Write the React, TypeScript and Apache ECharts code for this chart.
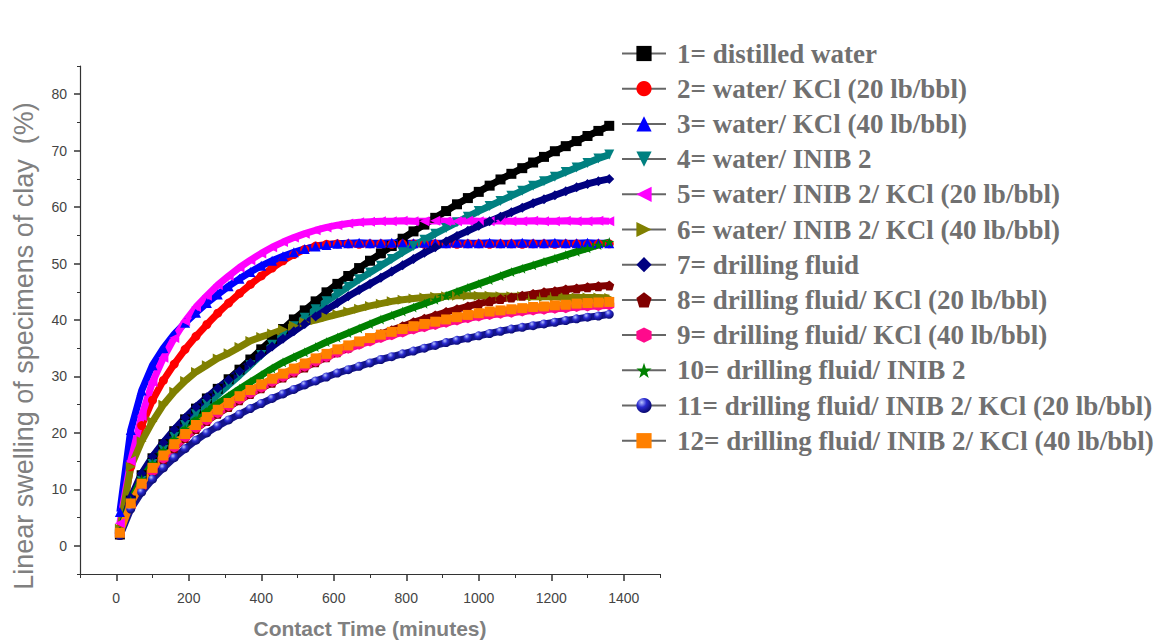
import React, { useEffect, useRef } from "react";
import * as echarts from "echarts";

// Contact time (minutes) at which swelling was recorded
const times = [
  10, 40, 70, 100, 130, 160, 190, 220, 250, 280, 310, 340, 370, 400, 430, 460,
  490, 520, 550, 580, 610, 640, 670, 700, 730, 760, 790, 820, 850, 880, 910,
  940, 970, 1000, 1030, 1060, 1090, 1120, 1150, 1180, 1210, 1240, 1270, 1300,
  1330, 1360,
];

// Linear swelling (%) for each fluid
const distilledWater = [
  2, 8, 12.5, 15.5, 18, 20.3, 22.4, 24.3, 26.1, 27.8, 29.5, 31.2, 33, 34.8, 36.6,
  38.4, 40.1, 41.7, 43.3, 44.9, 46.4, 47.8, 49.2, 50.5, 51.8, 53.1, 54.4, 55.7,
  56.9, 58.1, 59.3, 60.5, 61.6, 62.7, 63.8, 64.9, 65.9, 66.9, 67.9, 68.9, 69.9,
  70.8, 71.7, 72.6, 73.5, 74.4,
];
const waterKcl20 = [
  3, 14, 21.3, 25.8, 29.3, 32.2, 34.8, 37.1, 39.2, 41.2, 43, 44.7, 46.3, 47.8,
  49.2, 50.5, 51.6, 52.5, 53.1, 53.4, 53.5, 53.5, 53.4, 53.5, 53.5, 53.4, 53.5,
  53.5, 53.4, 53.5, 53.5, 53.4, 53.5, 53.5, 53.4, 53.5, 53.5, 53.4, 53.5, 53.5,
  53.4, 53.5, 53.5, 53.4, 53.5, 53.5,
];
const waterKcl40 = [
  6, 20.5, 27.5, 32, 35, 37.5, 39.5, 41.3, 43, 44.5, 46, 47.3, 48.5, 49.6, 50.5,
  51.3, 52, 52.6, 53, 53.3, 53.5, 53.6, 53.7, 53.6, 53.6, 53.7, 53.6, 53.6, 53.7,
  53.6, 53.6, 53.7, 53.6, 53.6, 53.7, 53.6, 53.6, 53.7, 53.6, 53.6, 53.7, 53.6,
  53.6, 53.7, 53.6, 53.6,
];
const waterInib2 = [
  2.3, 7.5, 11.5, 14.5, 17, 19.3, 21.4, 23.3, 25.1, 26.8, 28.5, 30.2, 32, 33.8,
  35.6, 37.3, 38.9, 40.4, 41.9, 43.3, 44.6, 45.9, 47.2, 48.4, 49.6, 50.8, 52,
  53.1, 54.2, 55.3, 56.3, 57.3, 58.3, 59.3, 60.2, 61.1, 62, 62.9, 63.8, 64.6,
  65.4, 66.2, 67, 67.8, 68.6, 69.3,
];
const waterInib2Kcl20 = [
  4, 15, 23, 29, 33.3, 36.8, 39.8, 42.3, 44.3, 46.2, 47.8, 49.3, 50.6, 51.8, 52.9,
  53.8, 54.6, 55.3, 55.9, 56.4, 56.8, 57.1, 57.3, 57.4, 57.5, 57.5, 57.6, 57.5,
  57.5, 57.6, 57.5, 57.5, 57.6, 57.5, 57.5, 57.6, 57.5, 57.5, 57.6, 57.5, 57.5,
  57.6, 57.5, 57.5, 57.6, 57.5,
];
const waterInib2Kcl40 = [
  3, 14, 18.5, 22, 25, 27.3, 29.2, 30.8, 32, 33.2, 34.1, 35.2, 36.3, 37, 37.6,
  38.3, 39, 39.6, 40, 40.5, 41, 41.5, 42, 42.5, 42.9, 43.3, 43.6, 43.8, 44, 44.1,
  44.2, 44.3, 44.3, 44.3, 44.3, 44.2, 44.2, 44.2, 44.1, 44.1, 44.1, 44, 44, 44,
  44, 43.9,
];
const drillingFluid = [
  2.5, 8.5, 12.8, 15.8, 18.3, 20.6, 22.7, 24.6, 26.3, 27.9, 29.4, 30.9, 32.4,
  33.9, 35.3, 36.7, 38, 39.3, 40.6, 41.8, 43, 44.2, 45.3, 46.4, 47.5, 48.6, 49.7,
  50.8, 51.9, 52.9, 53.9, 54.9, 55.8, 56.7, 57.5, 58.3, 59.1, 59.9, 60.7, 61.4,
  62.1, 62.8, 63.5, 64.1, 64.6, 65,
];
const fluidKcl20 = [
  2, 7, 10.3, 13.1, 15.3, 17.3, 19.1, 20.7, 22.1, 23.4, 24.6, 25.8, 26.9, 27.9,
  28.9, 29.8, 30.7, 31.6, 32.5, 33.4, 34.3, 35.1, 35.9, 36.7, 37.5, 38.2, 38.9,
  39.6, 40.2, 40.8, 41.4, 41.9, 42.4, 42.9, 43.3, 43.7, 44, 44.3, 44.6, 44.9,
  45.1, 45.4, 45.6, 45.8, 46, 46.1,
];
const fluidKcl40 = [
  2, 7, 10.5, 13.2, 15.4, 17.4, 19.2, 20.8, 22.2, 23.5, 24.7, 25.9, 27, 28, 29,
  29.9, 30.8, 31.7, 32.6, 33.4, 34.2, 34.9, 35.6, 36.2, 36.8, 37.3, 37.8, 38.3,
  38.7, 39.1, 39.5, 39.9, 40.3, 40.6, 40.9, 41.1, 41.3, 41.5, 41.7, 41.8, 42,
  42.1, 42.3, 42.4, 42.5, 42.6,
];
const fluidInib2 = [
  2.5, 8, 11.8, 14.6, 16.9, 18.9, 20.7, 22.3, 23.8, 25.2, 26.5, 27.8, 29, 30.2,
  31.4, 32.5, 33.4, 34.3, 35.2, 36.1, 36.9, 37.7, 38.5, 39.3, 40.1, 40.8, 41.5,
  42.2, 42.9, 43.6, 44.3, 45, 45.7, 46.4, 47.1, 47.8, 48.5, 49.1, 49.7, 50.3,
  50.9, 51.5, 52.1, 52.7, 53.3, 53.8,
];
const fluidInib2Kcl20 = [
  1.8, 6.5, 9.5, 11.8, 13.8, 15.6, 17.2, 18.7, 20, 21.2, 22.3, 23.3, 24.3, 25.2,
  26.1, 26.9, 27.7, 28.5, 29.2, 29.9, 30.6, 31.2, 31.8, 32.4, 33, 33.5, 34, 34.5,
  35, 35.5, 36, 36.4, 36.8, 37.2, 37.6, 38, 38.4, 38.7, 39, 39.3, 39.6, 39.9,
  40.2, 40.5, 40.7, 41,
];
const fluidInib2Kcl40 = [
  2.3, 7.5, 11, 13.8, 16, 18, 19.8, 21.4, 22.8, 24.1, 25.3, 26.5, 27.6, 28.6,
  29.6, 30.5, 31.4, 32.3, 33.2, 34, 34.8, 35.5, 36.2, 36.8, 37.4, 37.9, 38.4,
  38.9, 39.3, 39.7, 40.1, 40.5, 40.9, 41.2, 41.5, 41.7, 41.9, 42.1, 42.3, 42.4,
  42.6, 42.7, 42.9, 43, 43.1, 43.2,
];

const seriesNames = [
  "1= distilled water",
  "2= water/ KCl (20 lb/bbl)",
  "3= water/ KCl (40 lb/bbl)",
  "4= water/ INIB 2",
  "5= water/ INIB 2/ KCl (20 lb/bbl)",
  "6= water/ INIB 2/ KCl (40 lb/bbl)",
  "7= drilling fluid",
  "8= drilling fluid/ KCl (20 lb/bbl)",
  "9= drilling fluid/ KCl (40 lb/bbl)",
  "10= drilling fluid/ INIB 2",
  "11= drilling fluid/ INIB 2/ KCl (20 lb/bbl)",
  "12= drilling fluid/ INIB 2/ KCl (40 lb/bbl)",
];
const seriesValues = [
  distilledWater, waterKcl20, waterKcl40, waterInib2, waterInib2Kcl20,
  waterInib2Kcl40, drillingFluid, fluidKcl20, fluidKcl40, fluidInib2,
  fluidInib2Kcl20, fluidInib2Kcl40,
];
const seriesColors = [
  "#000000", "#ff0000", "#0000ff", "#008080", "#ff00ff", "#808000",
  "#000080", "#800000", "#ff0a8c", "#008000", "#14148c", "#ff8000",
];

const xTickLabels = [0, 200, 400, 600, 800, 1000, 1200, 1400];
const xMinorTicks = [-100, 100, 300, 500, 700, 900, 1100, 1300, 1500];
const yTickLabels = [0, 10, 20, 30, 40, 50, 60, 70, 80];
const yMinorTicks = [-5, 5, 15, 25, 35, 45, 55, 65, 75, 85];

const xTitle = "Contact Time (minutes)";
const yTitle = "Linear swelling of specimens of clay  (%)";

const SYM_UP = "path://M0,-10L10,8L-10,8Z";
const SYM_DOWN = "path://M0,10L10,-8L-10,-8Z";
const SYM_LEFT = "path://M-10,0L8,-10L8,10Z";
const SYM_RIGHT = "path://M10,0L-8,-10L-8,10Z";
const SYM_DIAMOND = "path://M0,-10L10,0L0,10L-10,0Z";
const SYM_PENTAGON = "path://M0,-10L9.51,-3.09L5.88,8.09L-5.88,8.09L-9.51,-3.09Z";
const SYM_HEXAGON = "path://M0,-10L8.66,-5L8.66,5L0,10L-8.66,5L-8.66,-5Z";
const SYM_STAR =
  "path://M0,-10L2.35,-3.24L9.51,-3.09L3.8,1.24L5.88,8.09L0,4L-5.88,8.09L-3.8,1.24L-9.51,-3.09L-2.35,-3.24Z";

const seriesSymbols = [
  "rect", "circle", SYM_UP, SYM_DOWN, SYM_LEFT, SYM_RIGHT,
  SYM_DIAMOND, SYM_PENTAGON, SYM_HEXAGON, SYM_STAR, "circle", "rect",
];

export default function App() {
  const ref = useRef<HTMLDivElement>(null);

  useEffect(() => {
    if (!ref.current) return;
    const chart = echarts.init(ref.current, undefined, { renderer: "svg" });

    const sphere = new echarts.graphic.RadialGradient(0.35, 0.3, 0.7, [
      { offset: 0, color: "#b8c4ff" },
      { offset: 0.45, color: "#2a2ad0" },
      { offset: 1, color: "#0a0a70" },
    ]);

    const series = seriesNames.map((name, i) => ({
      name,
      type: "line",
      data: times.map((t, k) => [t, seriesValues[i][k]]),
      symbol: seriesSymbols[i],
      symbolSize: i === 1 || i === 10 ? 9 : 10,
      showAllSymbol: true,
      lineStyle: { color: seriesColors[i], width: 7 },
      itemStyle: {
        color: i === 10 ? sphere : seriesColors[i],
        borderWidth: 0,
      },
      emphasis: { disabled: true },
      z: 2,
    }));

    const axisLine = {
      show: true,
      onZero: false,
      lineStyle: { color: "#333", width: 1.2 },
    };
    const labelStyle = {
      color: "#444",
      fontFamily: "Liberation Sans, Arial, sans-serif",
      fontSize: 14,
      formatter: (v: number) => String(v),
    };

    chart.setOption({
      animation: false,
      backgroundColor: "#ffffff",
      grid: { left: 80, top: 66, width: 580, height: 512 },
      graphic: [
        {
          type: "text",
          x: 24,
          y: 346,
          rotation: Math.PI / 2,
          style: {
            text: yTitle,
            fill: "#808080",
            font: "27px 'Liberation Sans', Arial, sans-serif",
            textAlign: "center",
            textVerticalAlign: "middle",
          },
        },
      ],
      legend: {
        orient: "vertical",
        left: 616,
        top: 35,
        itemWidth: 44,
        itemHeight: 19,
        itemGap: 8.2,
        data: seriesNames,
        lineStyle: { color: "#666", width: 2 },
        textStyle: {
          fontFamily: "Liberation Serif, Times New Roman, serif",
          fontWeight: "bold",
          fontSize: 27,
          lineHeight: 27,
          color: "#707070",
          padding: [0, 0, 0, 6],
        },
        selectedMode: false,
      },
      xAxis: [
        {
          type: "value",
          min: -100,
          max: 1500,
          splitLine: { show: false },
          axisLine,
          axisTick: {
            show: true,
            length: 4,
            customValues: xMinorTicks,
            lineStyle: { color: "#333" },
          },
          axisLabel: { ...labelStyle, margin: 17, customValues: xTickLabels },
          name: xTitle,
          nameLocation: "middle",
          nameGap: 44,
          nameTextStyle: {
            fontFamily: "Liberation Sans, Arial, sans-serif",
            fontWeight: "bold",
            fontSize: 21,
            color: "#808080",
          },
        },
        {
          type: "value",
          min: -100,
          max: 1500,
          position: "bottom",
          splitLine: { show: false },
          axisLine: { show: false, onZero: false },
          axisTick: {
            show: true,
            length: 7,
            customValues: xTickLabels,
            lineStyle: { color: "#333", width: 1.5 },
          },
          axisLabel: { show: false },
        },
      ],
      yAxis: [
        {
          type: "value",
          min: -5,
          max: 85,
          splitLine: { show: false },
          axisLine,
          axisTick: {
            show: true,
            length: 3,
            customValues: yMinorTicks,
            lineStyle: { color: "#333" },
          },
          axisLabel: { ...labelStyle, margin: 13, customValues: yTickLabels },
        },
        {
          type: "value",
          min: -5,
          max: 85,
          position: "left",
          splitLine: { show: false },
          axisLine: { show: false, onZero: false },
          axisTick: {
            show: true,
            length: 6,
            customValues: yTickLabels,
            lineStyle: { color: "#333", width: 1.5 },
          },
          axisLabel: { show: false },
        },
      ],
      series,
    });

    return () => chart.dispose();
  }, []);

  return (
    <div
      ref={ref}
      style={{
        position: "absolute",
        left: 0,
        top: 0,
        width: 1170,
        height: 644,
        background: "#fff",
      }}
    />
  );
}
